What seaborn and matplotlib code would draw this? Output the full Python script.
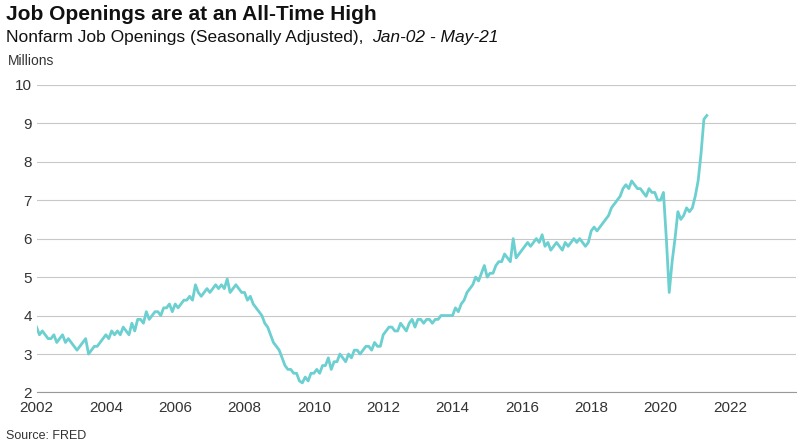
import matplotlib
matplotlib.use("Agg")
import matplotlib.pyplot as plt
import seaborn as sns
import pandas as pd
import numpy as np

plt.rcParams["font.family"] = "Liberation Sans"

values = [
3.7,3.5,3.6,3.5,3.4,3.4,3.5,3.3,3.4,3.5,3.3,3.4,
3.3,3.2,3.1,3.2,3.3,3.4,3.0,3.1,3.2,3.2,3.3,3.4,
3.5,3.4,3.6,3.5,3.6,3.5,3.7,3.6,3.5,3.8,3.6,3.9,
3.9,3.8,4.1,3.9,4.0,4.1,4.1,4.0,4.2,4.2,4.3,4.1,
4.3,4.2,4.3,4.4,4.4,4.5,4.4,4.8,4.6,4.5,4.6,4.7,
4.6,4.7,4.8,4.7,4.8,4.7,4.95,4.6,4.7,4.8,4.7,4.6,
4.6,4.4,4.5,4.3,4.2,4.1,4.0,3.8,3.7,3.5,3.3,3.2,
3.1,2.9,2.7,2.6,2.6,2.5,2.5,2.3,2.25,2.4,2.3,2.5,
2.5,2.6,2.5,2.7,2.7,2.9,2.6,2.8,2.8,3.0,2.9,2.8,
3.0,2.9,3.1,3.1,3.0,3.1,3.2,3.2,3.1,3.3,3.2,3.2,
3.5,3.6,3.7,3.7,3.6,3.6,3.8,3.7,3.6,3.8,3.9,3.7,
3.9,3.9,3.8,3.9,3.9,3.8,3.9,3.9,4.0,4.0,4.0,4.0,
4.0,4.2,4.1,4.3,4.4,4.6,4.7,4.8,5.0,4.9,5.1,5.3,
5.0,5.1,5.1,5.3,5.4,5.4,5.6,5.5,5.4,6.0,5.5,5.6,
5.7,5.8,5.9,5.8,5.9,6.0,5.9,6.1,5.8,5.9,5.7,5.8,
5.9,5.8,5.7,5.9,5.8,5.9,6.0,5.9,6.0,5.9,5.8,5.9,
6.2,6.3,6.2,6.3,6.4,6.5,6.6,6.8,6.9,7.0,7.1,7.3,
7.4,7.3,7.5,7.4,7.3,7.3,7.2,7.1,7.3,7.2,7.2,7.0,
7.0,7.2,6.0,4.6,5.4,6.0,6.7,6.5,6.6,6.8,6.7,6.8,
7.1,7.5,8.2,9.1,9.2,
]
dates = 2002 + np.arange(len(values)) / 12.0
xticks = list(range(2002, 2023, 2))
df = pd.DataFrame({"date": dates, "openings": values})

fig = plt.figure(figsize=(8.12, 4.46), dpi=100)
ax = fig.add_axes([0.045, 0.12, 0.935, 0.69])
sns.lineplot(data=df, x="date", y="openings", ax=ax, color="#6ccfd0", linewidth=2)
ax.set_xlim(2002, 2023.9)
ax.set_ylim(2, 10)
ax.set_xticks(xticks)
ax.set_xticklabels([str(t) for t in xticks])
ax.set_yticks(range(2, 11))
ax.grid(axis="y", color="#c8c8c8", linewidth=0.8)
ax.set_axisbelow(True)
for s in ["top", "right", "left"]:
    ax.spines[s].set_visible(False)
ax.spines["bottom"].set_color("#999999")
ax.tick_params(axis="both", length=0, labelsize=11, colors="#333333")
ax.tick_params(axis="x", pad=6)
ax.set_xlabel("")
ax.set_ylabel("")
fig.text(0.008, 0.955, "Job Openings are at an All-Time High", fontsize=15, fontweight="bold", color="#111111")
t1 = fig.text(0.008, 0.905, "Nonfarm Job Openings (Seasonally Adjusted), ", fontsize=12.5, color="#111111")
fig.canvas.draw()
bb = t1.get_window_extent().transformed(fig.transFigure.inverted())
fig.text(bb.x1 + 0.004, 0.905, "Jan-02 - May-21", fontsize=12.5, style="italic", color="#111111")
fig.text(0.01, 0.855, "Millions", fontsize=10, color="#333333")
fig.text(0.008, 0.015, "Source: FRED", fontsize=9, color="#333333")
fig.savefig("out.png", dpi=100)
